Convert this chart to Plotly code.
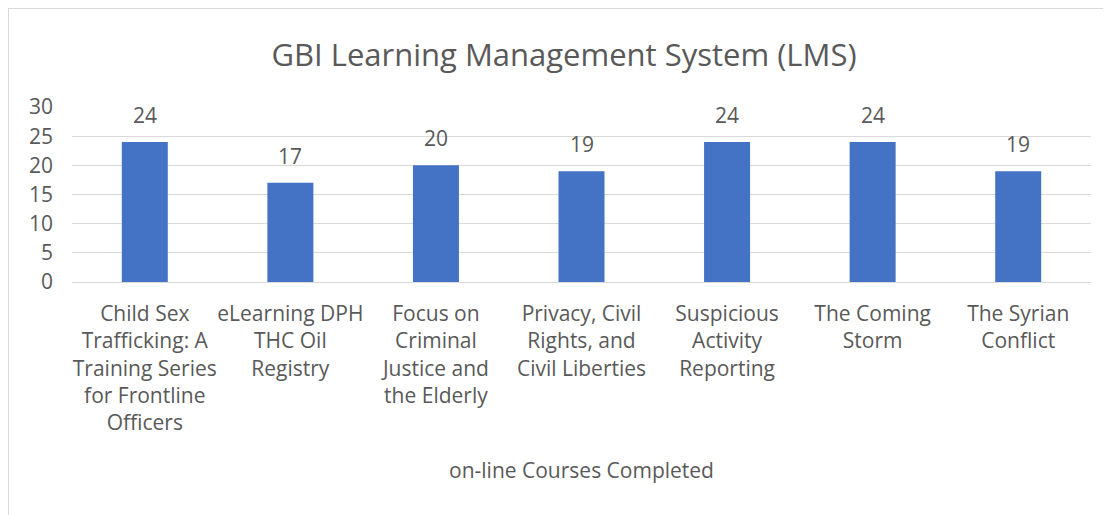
import plotly.graph_objects as go

categories = [
    "Child Sex<br>Trafficking: A<br>Training Series<br>for Frontline<br>Officers",
    "eLearning DPH<br>THC Oil<br>Registry",
    "Focus on<br>Criminal<br>Justice and<br>the Elderly",
    "Privacy, Civil<br>Rights, and<br>Civil Liberties",
    "Suspicious<br>Activity<br>Reporting",
    "The Coming<br>Storm",
    "The Syrian<br>Conflict",
]
values = [24, 17, 20, 19, 24, 24, 19]
y_ticks = [0, 5, 10, 15, 20, 25, 30]

FONT = "Open Sans"
GRAY = "#595959"
FS = 21

fig = go.Figure(go.Bar(
    x=categories, y=values,
    marker=dict(color="#4472C4", line=dict(width=0)),
    cliponaxis=False,
))

for c, v in zip(categories, values):
    fig.add_annotation(x=c, y=v, text=str(v), showarrow=False, yanchor="bottom",
                       yshift=11, font=dict(family=FONT, size=FS, color=GRAY))

# plot area: x 72..1091, y 107..282 on screen (figure div sits at 8,8)
W, H = 1103, 507
L, R, T, B = 64, 20, 99, 233
PW, PH = W - L - R, H - T - B

fig.update_layout(
    width=W, height=H,
    margin=dict(l=L, r=R, t=T, b=B),
    paper_bgcolor="white", plot_bgcolor="white",
    bargap=0.684,
    showlegend=False,
    title=dict(text="GBI Learning Management System (LMS)", x=(564 - 8) / W, xanchor="center",
               y=1 - (55 - 8) / H, yref="container", yanchor="middle",
               font=dict(family=FONT, size=31, color=GRAY)),
    font=dict(family=FONT, color=GRAY),
    shapes=[
        dict(type="line", xref="paper", yref="paper", x0=-L / PW, x1=(W) / PW,
             y0=1 + T / PH, y1=1 + T / PH, line=dict(color="#d9d9d9", width=2)),
        dict(type="line", xref="paper", yref="paper", x0=-L / PW, x1=-L / PW,
             y0=1 + T / PH, y1=-B / PH, line=dict(color="#d9d9d9", width=2)),
    ],
)
fig.update_xaxes(
    tickfont=dict(family=FONT, size=FS, color=GRAY),
    showline=False, ticks="", showgrid=False, tickangle=0, ticklabelstandoff=17,
    title=dict(text="on-line Courses Completed", font=dict(family=FONT, size=FS, color=GRAY), standoff=28),
)
fig.update_yaxes(
    range=[0, 30], tickvals=y_ticks, ticks="",
    tickfont=dict(family=FONT, size=FS, color=GRAY),
    showgrid=True, gridcolor="#d9d9d9", gridwidth=1,
    zeroline=True, zerolinecolor="#d9d9d9", zerolinewidth=1,
    showline=False, ticklabelstandoff=18,
)

fig.write_html("out.html")
